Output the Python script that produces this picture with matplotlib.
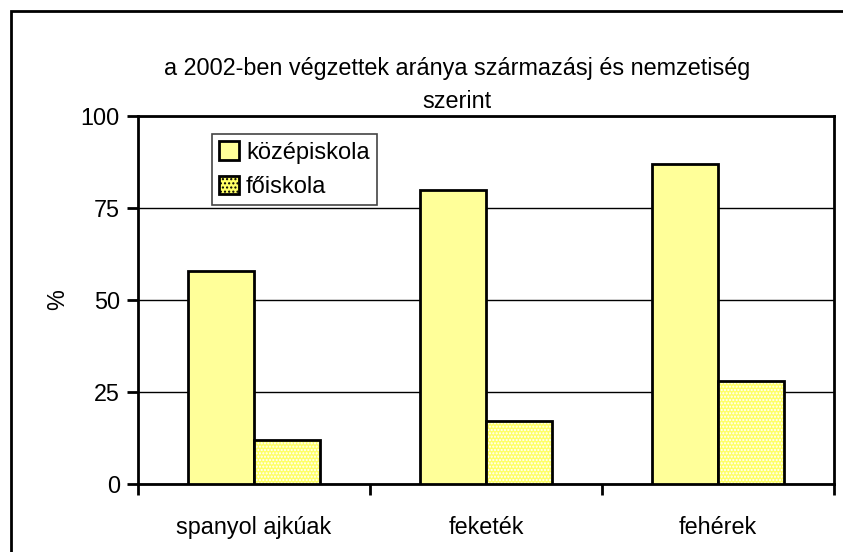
import numpy as np
import matplotlib.pyplot as plt
from matplotlib.patches import Rectangle

plt.rcParams['font.family'] = ['Liberation Sans', 'DejaVu Sans']

categories = ['spanyol ajkúak', 'feketék', 'fehérek']
kozepiskola = [58, 80, 87]
foiskola = [12, 17, 28]
series_names = ['középiskola', 'főiskola']
yticks = [0, 25, 50, 75, 100]

fs = 16.8

fig = plt.figure(figsize=(8.43, 5.52), dpi=100)
ax = fig.add_axes([138 / 843, 1 - 484 / 552, 696 / 843, 368 / 552])

x = np.arange(len(categories))
w = 0.2845

# outer frame (cut off on the right and bottom like the original)
fig.patches.append(Rectangle((11 / 843, -0.1), 1.2, 1 - 11 / 552 + 0.1,
                             transform=fig.transFigure, fill=False,
                             edgecolor='black', linewidth=2, zorder=0))

ax.set_axisbelow(True)
ax.yaxis.grid(True, color='black', linewidth=1)

b1 = ax.bar(x - w / 2, kozepiskola, width=w, color='#FFFF99',
            edgecolor='black', linewidth=2, label=series_names[0], zorder=3)
# dotted fill for the second series
ax.bar(x + w / 2, foiskola, width=w, color='#FFFF66', edgecolor='white',
       hatch='.....', linewidth=0, zorder=3)
b2 = ax.bar(x + w / 2, foiskola, width=w, fill=False, edgecolor='black',
            linewidth=2, zorder=4)
leg_patch = Rectangle((0, 0), 1, 1, facecolor='#FFFF66', edgecolor='black',
                      hatch='....', linewidth=2)

ax.set_xlim(-0.5, len(categories) - 0.5)
ax.set_ylim(0, 100)
ax.set_yticks(yticks)
ax.set_xticks(x)
ax.set_xticklabels(categories, fontsize=fs)
ax.set_xticks(np.arange(-0.5, len(categories)), minor=True)
ax.tick_params(axis='x', which='major', length=0, pad=23)
ax.tick_params(axis='x', which='minor', length=8, width=2, direction='out')
ax.tick_params(axis='y', length=8, width=2, labelsize=fs, pad=5)
ax.set_ylabel('%', fontsize=fs, labelpad=8)

for s in ax.spines.values():
    s.set_linewidth(2)

leg = ax.legend([b1, leg_patch], series_names, loc='upper left',
                bbox_to_anchor=(0.106, 0.951), fontsize=17, frameon=True,
                fancybox=False, framealpha=1, edgecolor='#444444',
                handlelength=0.85, handleheight=0.85, handletextpad=0.3,
                borderpad=0.3, labelspacing=0.5, borderaxespad=0)
leg.get_frame().set_linewidth(1.2)

fig.text(457 / 843, 1 - 69 / 552, 'a 2002-ben végzettek aránya származásj és nemzetiség',
         ha='center', va='center', fontsize=fs)
fig.text(457 / 843, 1 - 101 / 552, 'szerint', ha='center', va='center', fontsize=fs)

fig.savefig('out.png', dpi=100)
